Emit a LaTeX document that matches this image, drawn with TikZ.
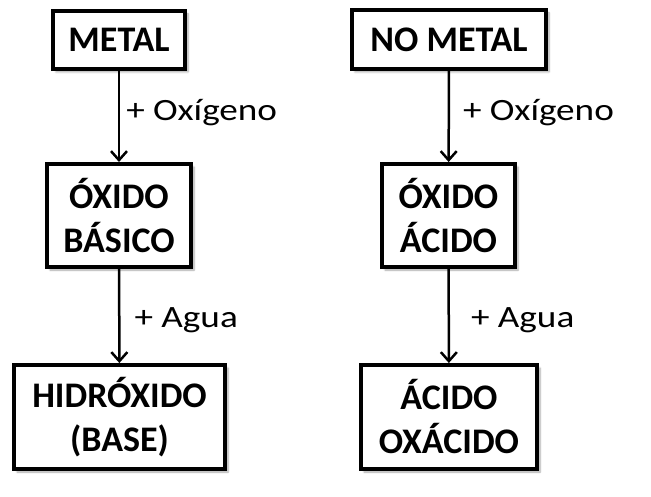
\documentclass[tikz,border=0pt]{standalone}
\usepackage{fontspec}
\setmainfont{Carlito}
\newfontfamily\etiquetafont{Carlito}[FakeStretch=1.2]
\usepackage{tikz}
\usetikzlibrary{arrows.meta}
\usetikzlibrary{shadows.blur}

\tikzset{
    caja/.style={draw, line width=4pt, fill=white, align=center, inner sep=0pt,
        font=\fontsize{36}{44}\selectfont\bfseries,
        blur shadow={shadow xshift=3pt, shadow yshift=-3pt, shadow opacity=35, shadow blur steps=6}},
    flecha/.style={line width=2.5pt, -{Straight Barb[length=9pt,width=16pt]}},
    etiqueta/.style={inner sep=0pt, anchor=west, font=\etiquetafont\fontsize{31}{36}\selectfont}
}

\begin{document}
\begin{tikzpicture}[x=1pt, y=-1pt]
            \useasboundingbox (0,0) rectangle (651,497);

            \node[caja, minimum width=132pt, minimum height=58pt] (metal) at (119,40) {METAL};
            \node[caja, minimum width=144pt, minimum height=103pt] (oxbasico) at (119,215.5) {ÓXIDO\\BÁSICO};
            \node[caja, minimum width=211pt, minimum height=104pt] (hidroxido) at (119.5,417) {HIDRÓXIDO\\(BASE)};

            \node[caja, minimum width=194pt, minimum height=59pt] (nometal) at (449,39.5) {NO METAL};
            \node[caja, minimum width=133pt, minimum height=103pt] (oxacido) at (448.5,215.5) {ÓXIDO\\ÁCIDO};
            \node[caja, minimum width=176pt, minimum height=104pt] (acoxacido) at (449,417) {ÁCIDO\\OXÁCIDO};

            \draw[flecha] (metal) -- node[etiqueta, midway, xshift=6pt, yshift=4pt] {+ Oxígeno} (oxbasico);
            \draw[flecha] (oxbasico) -- node[etiqueta, midway, xshift=14pt, yshift=-4pt] {+ Agua} (hidroxido);
            \draw[flecha] (nometal) -- node[etiqueta, midway, xshift=13pt, yshift=4pt] {+ Oxígeno} (oxacido);
            \draw[flecha] (oxacido) -- node[etiqueta, midway, xshift=21pt, yshift=-4pt] {+ Agua} (acoxacido);
\end{tikzpicture}
\end{document}
